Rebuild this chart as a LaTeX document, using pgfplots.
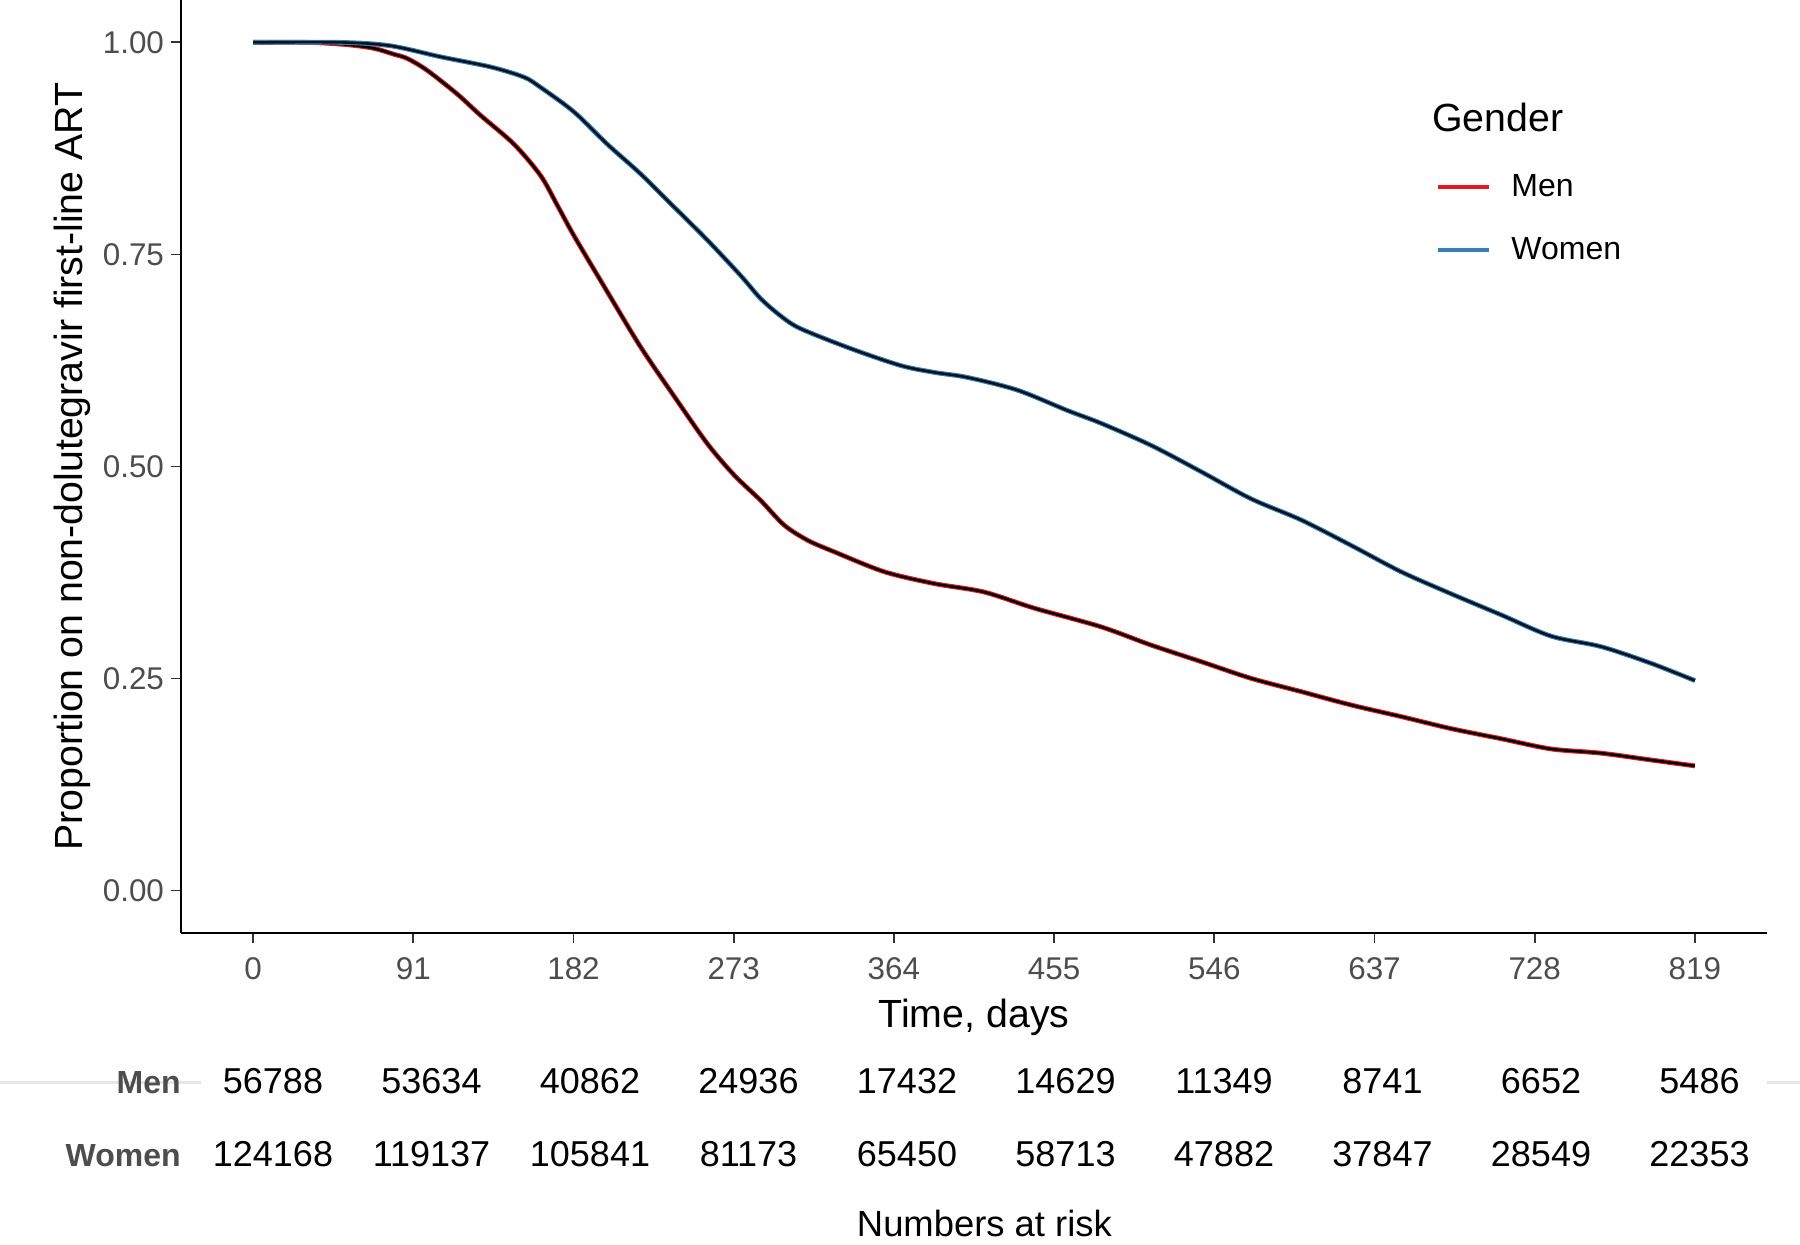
\documentclass[border=0pt]{standalone}
\usepackage{fontspec}
\setmainfont{Liberation Sans}
\usepackage{pgfplots}
\usepackage{pgfplotstable}
\pgfplotsset{compat=1.18}
\definecolor{menred}{HTML}{E41A1C}
\definecolor{womenblue}{HTML}{377EB8}
\definecolor{tickgray}{HTML}{4D4D4D}
\definecolor{faint}{HTML}{E6E6E6}

\pgfplotstableread{
day val
0 1.000
30 1.000
42 0.999
55 0.997
68.6 0.993
80 0.986
87.6 0.981
98.9 0.967
116 0.939
129.2 0.914
148.2 0.880
163.3 0.843
172.8 0.808
182.3 0.772
201.2 0.706
220.1 0.641
239.1 0.583
258 0.527
273.2 0.490
288.3 0.460
301.6 0.431
315 0.413
330 0.3995
358.4 0.376
386.8 0.362
415.2 0.352
443.7 0.333
481.6 0.311
510 0.2895
538.4 0.270
566.8 0.2503
595.3 0.2346
623.7 0.2188
652 0.2052
680.4 0.191
709 0.179
737.3 0.167
765.7 0.162
794 0.154
819 0.147
}\menTable

\pgfplotstableread{
day val
0 1.000
49.7 1.000
78 0.996
106.5 0.983
135 0.971
153.9 0.959
163.3 0.947
182.3 0.918
201.2 0.880
220.1 0.845
239.1 0.806
258 0.767
277 0.725
288.3 0.698
300 0.677
311 0.6625
339.5 0.639
367.9 0.619
386.8 0.611
405.8 0.605
434.2 0.590
462.6 0.566
481.6 0.551
510 0.525
538.4 0.494
566.8 0.462
595.3 0.437
623.7 0.407
652 0.376
680.4 0.350
709 0.325
737.3 0.300
765.7 0.2876
794 0.268
819 0.2476
}\womenTable

\begin{document}
\begin{tikzpicture}
\useasboundingbox (-90.5pt,-156pt) rectangle (809.5pt,466.5pt);
\clip (-90.5pt,-156pt) rectangle (809.5pt,466.5pt);
% faint panel line of the risk table
\draw[faint, line width=1.5pt] (-90.5pt,-75pt) -- (10pt,-75pt);
\draw[faint, line width=1.5pt] (793pt,-75pt) -- (809.5pt,-75pt);
\begin{axis}[
  scale only axis, width=793pt, height=466.5pt,
  xmin=-40.95, xmax=859.95, ymin=-0.05, ymax=1.05,
  axis x line*=bottom, axis y line*=left,
  axis line style={-, line width=1.4pt, black},
  xtick={0,91,182,273,364,455,546,637,728,819},
  ytick={0,0.25,0.5,0.75,1},
  tick align=outside,
  major tick length=5pt,
  tick style={line width=0.9pt, color=black!80},
  /pgf/number format/assume math mode=true,
  tick label style={font=\fontsize{15.7}{18}\selectfont, text=tickgray},
  x tick label style={yshift=-4pt},
  y tick label style={/pgf/number format/fixed, /pgf/number format/fixed zerofill, /pgf/number format/precision=2},
  clip=false,
  legend style={draw=none, fill=none, at={(axis description cs:0.7913,0.7663)}, anchor=west,
    font=\fontsize{16}{19}\selectfont, row sep=15pt, column sep=0pt, inner sep=0pt},
  legend cell align=left,
  legend image code/.code={\draw[#1] (0pt,0pt) -- (25.5pt,0pt);},
]
\addlegendimage{menred, line width=2pt}
\addlegendentry{\hspace{8pt}Men}
\addlegendimage{womenblue, line width=2pt}
\addlegendentry{\hspace{8pt}Women}
\addplot[menred, line width=2.4pt, smooth, tension=0.5, forget plot] table[x=day, y=val] {\menTable};
\addplot[black, line width=1.3pt, smooth, tension=0.5, forget plot] table[x=day, y=val] {\menTable};
\addplot[womenblue, line width=2.4pt, smooth, tension=0.5, forget plot] table[x=day, y=val] {\womenTable};
\addplot[black!85!womenblue, line width=1.3pt, smooth, tension=0.5, forget plot] table[x=day, y=val] {\womenTable};
\end{axis}
% axis titles
\node[anchor=base, font=\fontsize{19.65}{22}\selectfont] at (396.5pt,-47.5pt) {Time, days};
\node[anchor=base, rotate=90, font=\fontsize{19.65}{22}\selectfont] at (-49.4pt,233.25pt) {Proportion on non-dolutegravir first-line ART};
\node[anchor=base west, inner sep=0pt, font=\fontsize{19.65}{22}\selectfont] at (625.5pt,400.6pt) {Gender};
% numbers at risk table
\node[anchor=base east, font=\fontsize{16}{19}\selectfont\bfseries, text=tickgray, inner sep=0pt] at (0pt,-80.5pt) {Men};
\node[anchor=base east, font=\fontsize{16}{19}\selectfont\bfseries, text=tickgray, inner sep=0pt] at (0pt,-117pt) {Women};
\foreach \v [count=\k from 0] in {56788,53634,40862,24936,17432,14629,11349,8741,6652,5486}
  \node[anchor=base, font=\fontsize{18}{21}\selectfont, inner sep=0pt] at ({46pt+79.25pt*\k},-80.5pt) {\v};
\foreach \v [count=\k from 0] in {124168,119137,105841,81173,65450,58713,47882,37847,28549,22353}
  \node[anchor=base, font=\fontsize{18}{21}\selectfont, inner sep=0pt] at ({46pt+79.25pt*\k},-117pt) {\v};
\node[anchor=base, font=\fontsize{18.2}{21}\selectfont, inner sep=0pt] at (401.7pt,-152pt) {Numbers at risk};
\end{tikzpicture}
\end{document}
